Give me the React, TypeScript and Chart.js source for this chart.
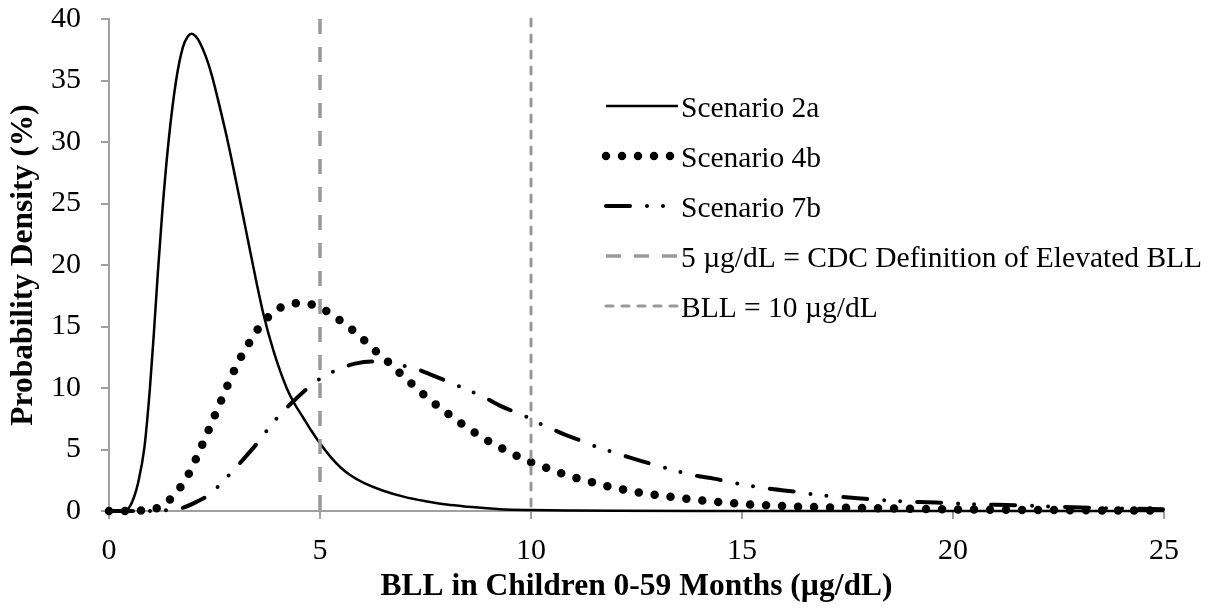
import React, { useEffect, useRef } from 'react';
import { Chart, registerables } from 'chart.js';

Chart.register(...registerables);

// ---- Data ----
const xTickValues = [0, 5, 10, 15, 20, 25];
const yTickValues = [0, 5, 10, 15, 20, 25, 30, 35, 40];

const s2aX = [0, 0.3, 0.4, 0.5, 0.6, 0.69, 0.84, 0.97, 1.07, 1.16, 1.26, 1.41, 1.59, 1.75, 1.87, 1.96, 2.05, 2.15, 2.3, 2.43, 2.6, 2.83, 3.1, 3.3, 3.5, 3.66, 3.9, 4.21, 4.4, 4.6, 4.8, 5.0, 5.25, 5.5, 5.75, 6.0, 6.5, 7.0, 7.5, 8.0, 8.5, 9.27, 10, 11, 12, 14, 17, 25];
const s2aY = [0, 0, 0.05, 0.4, 1.2, 2.3, 5.2, 10, 14.8, 19.5, 24.2, 30.0, 35.0, 37.7, 38.6, 38.8, 38.6, 38.1, 36.9, 35.5, 33.2, 29.8, 25.3, 21.9, 18.5, 16.0, 13.0, 10.0, 8.7, 7.6, 6.5, 5.5, 4.4, 3.5, 2.85, 2.35, 1.65, 1.15, 0.8, 0.52, 0.35, 0.15, 0.08, 0.04, 0.02, 0.01, 0, 0];

const s4bX = [0, 0.5, 0.8, 1.11, 1.43, 1.68, 1.88, 2.05, 2.2, 2.35, 2.5, 2.65, 2.8, 2.95, 3.12, 3.31, 3.51, 3.75, 4.04, 4.41, 4.78, 5.13, 5.45, 5.74, 6.04, 6.32, 6.6, 6.87, 7.16, 7.44, 7.73, 8.03, 8.34, 8.65, 8.97, 9.31, 9.64, 9.99, 10.35, 10.7, 11.07, 11.43, 11.79, 12.16, 12.54, 12.91, 13.29, 13.67, 14.04, 14.42, 14.8, 15.18, 15.56, 15.94, 16.32, 16.7, 17.5, 18.5, 19.5, 20.5, 21.5, 22.5, 23.5, 25];
const s4bY = [0, 0, 0.05, 0.19, 0.9, 1.87, 2.96, 4.15, 5.32, 6.5, 7.72, 8.92, 10.14, 11.3, 12.47, 13.6, 14.7, 15.7, 16.5, 16.9, 16.8, 16.3, 15.56, 14.8, 13.9, 13.0, 12.17, 11.28, 10.38, 9.51, 8.7, 7.91, 7.13, 6.42, 5.72, 5.1, 4.53, 3.98, 3.53, 3.09, 2.68, 2.36, 2.03, 1.76, 1.52, 1.33, 1.17, 1.0, 0.87, 0.73, 0.63, 0.54, 0.46, 0.41, 0.35, 0.32, 0.26, 0.2, 0.15, 0.12, 0.09, 0.07, 0.05, 0.04];

const s7bX = [0, 0.9, 1.2, 1.41, 1.76, 2.08, 2.39, 2.65, 2.91, 3.17, 3.6, 3.82, 4.07, 4.35, 4.84, 5.14, 5.49, 5.83, 6.22, 6.5, 6.87, 7.25, 7.61, 8.24, 8.57, 8.92, 9.25, 9.9, 10.2, 10.55, 10.88, 11.16, 11.54, 11.89, 12.27, 12.58, 13.25, 13.61, 13.98, 14.33, 15.03, 15.38, 15.76, 16.12, 16.81, 17.18, 17.54, 17.91, 18.59, 19.69, 20.4, 21.51, 22.18, 23.3, 24.03, 25];
const s7bY = [0, 0, 0.02, 0.08, 0.27, 0.75, 1.36, 2.23, 3.17, 4.15, 5.88, 6.91, 7.89, 8.86, 10.36, 11.03, 11.6, 11.98, 12.15, 12.15, 11.9, 11.58, 11.11, 10.22, 9.73, 9.19, 8.59, 7.64, 7.13, 6.59, 6.1, 5.75, 5.23, 4.85, 4.42, 4.1, 3.45, 3.12, 2.82, 2.63, 2.14, 1.95, 1.76, 1.63, 1.3, 1.2, 1.09, 1.0, 0.81, 0.68, 0.56, 0.47, 0.38, 0.26, 0.2, 0.15];

const cdcX = [5, 5];
const cdcY = [40, 0];
const bll10X = [10, 10];
const bll10Y = [40, 0];

const seriesLabels = [
  'Scenario 2a',
  'Scenario 4b',
  'Scenario 7b',
  '5 µg/dL = CDC Definition of Elevated BLL',
  'BLL = 10 µg/dL',
];
const xTitle = 'BLL in Children 0-59 Months (µg/dL)';
const yTitle = 'Probability Density (%)';

const FAMILY = '"Liberation Serif", "Times New Roman", serif';

const toPoints = (xs: number[], ys: number[]) => xs.map((x, i) => ({ x, y: ys[i] }));

const legendPlugin = {
  id: 'customLegend',
  afterDraw(chart: any, _args: any, opts: any) {
    const ctx: CanvasRenderingContext2D = chart.ctx;
    ctx.save();
    opts.order.forEach((dsIndex: number, k: number) => {
      const ds = chart.data.datasets[dsIndex];
      const y = opts.rows[k];
      ctx.beginPath();
      ctx.setLineDash(ds.borderDash || []);
      ctx.lineDashOffset = 0;
      ctx.lineCap = ds.borderCapStyle || 'butt';
      ctx.lineWidth = ds.borderWidth;
      ctx.strokeStyle = ds.borderColor;
      ctx.moveTo(opts.x0, y + opts.lineDy);
      ctx.lineTo(opts.x1, y + opts.lineDy);
      ctx.stroke();
      ctx.setLineDash([]);
      ctx.fillStyle = '#000';
      ctx.font = `${opts.fontSize}px ${FAMILY}`;
      ctx.textAlign = 'left';
      ctx.textBaseline = 'middle';
      ctx.fillText(ds.label, opts.textX, y);
    });
    ctx.restore();
  },
};

export default function App() {
  const ref = useRef<HTMLCanvasElement>(null);

  useEffect(() => {
    const base: any = { pointRadius: 0, pointHoverRadius: 0, fill: false, clip: false };
    const chart = new Chart(ref.current as HTMLCanvasElement, {
      type: 'line',
      data: {
        datasets: [
          { ...base, label: seriesLabels[3], data: toPoints(cdcX, cdcY), borderColor: '#999999', borderWidth: 3.5, borderDash: [15, 13], borderCapStyle: 'butt', order: 0 },
          { ...base, label: seriesLabels[4], data: toPoints(bll10X, bll10Y), borderColor: '#999999', borderWidth: 3, borderDash: [7, 9], borderCapStyle: 'round', order: 0 },
          { ...base, label: seriesLabels[0], data: toPoints(s2aX, s2aY), borderColor: '#000000', borderWidth: 2.5, cubicInterpolationMode: 'monotone', order: 1 },
          { ...base, label: seriesLabels[1], data: toPoints(s4bX, s4bY), borderColor: '#000000', borderWidth: 8.5, borderDash: [0, 16], borderCapStyle: 'round', cubicInterpolationMode: 'monotone', order: 1 },
          { ...base, label: seriesLabels[2], data: toPoints(s7bX, s7bY), borderColor: '#000000', borderWidth: 4, borderDash: [24, 17, 0, 16, 0, 17], borderCapStyle: 'round', cubicInterpolationMode: 'monotone', order: 1 },
        ],
      },
      options: {
        responsive: false,
        animation: false,
        devicePixelRatio: 1,
        events: [],
        layout: { padding: { left: 0, right: 45, top: 19, bottom: 0 } },
        plugins: {
          legend: { display: false },
          tooltip: { enabled: false },
          customLegend: {
            order: [2, 3, 4, 0, 1],
            rows: [109, 159, 209, 259, 309],
            lineDy: -3,
            x0: 606,
            x1: 678,
            textX: 681,
            fontSize: 29.5,
          },
        } as any,
        scales: {
          x: {
            type: 'linear',
            min: 0,
            max: 25,
            afterFit: (s: any) => { s.height = 98; },
            afterBuildTicks: (s: any) => { s.ticks = xTickValues.map((v) => ({ value: v })); },
            ticks: { font: { size: 30, family: FAMILY }, color: '#000', padding: 14, maxRotation: 0 },
            grid: { drawOnChartArea: false, drawTicks: true, tickLength: 8, color: '#a0a0a0', lineWidth: 2 },
            border: { display: true, color: '#a0a0a0', width: 2 },
            title: { display: true, text: xTitle, color: '#000', font: { size: 31.5, weight: 'bold', family: FAMILY }, padding: { top: 0, bottom: 3 } },
          },
          y: {
            type: 'linear',
            min: 0,
            max: 40,
            afterFit: (s: any) => { s.width = 109; s.paddingTop = 0; s.paddingBottom = 0; },
            afterBuildTicks: (s: any) => { s.ticks = yTickValues.map((v) => ({ value: v })); },
            ticks: { font: { size: 30, family: FAMILY }, color: '#000', padding: 20 },
            grid: { drawOnChartArea: false, drawTicks: true, tickLength: 8, color: '#a0a0a0', lineWidth: 2 },
            border: { display: true, color: '#a0a0a0', width: 2 },
            title: { display: true, text: yTitle, color: '#000', font: { size: 31.5, weight: 'bold', family: FAMILY }, padding: { top: 5, bottom: 0 } },
          },
        },
      } as any,
      plugins: [legendPlugin as any],
    });
    return () => chart.destroy();
  }, []);

  return (
    <div style={{ position: 'fixed', left: 0, top: 0, width: 1209, height: 609, background: '#fff' }}>
      <canvas ref={ref} width={1209} height={609} style={{ display: 'block' }} />
    </div>
  );
}
